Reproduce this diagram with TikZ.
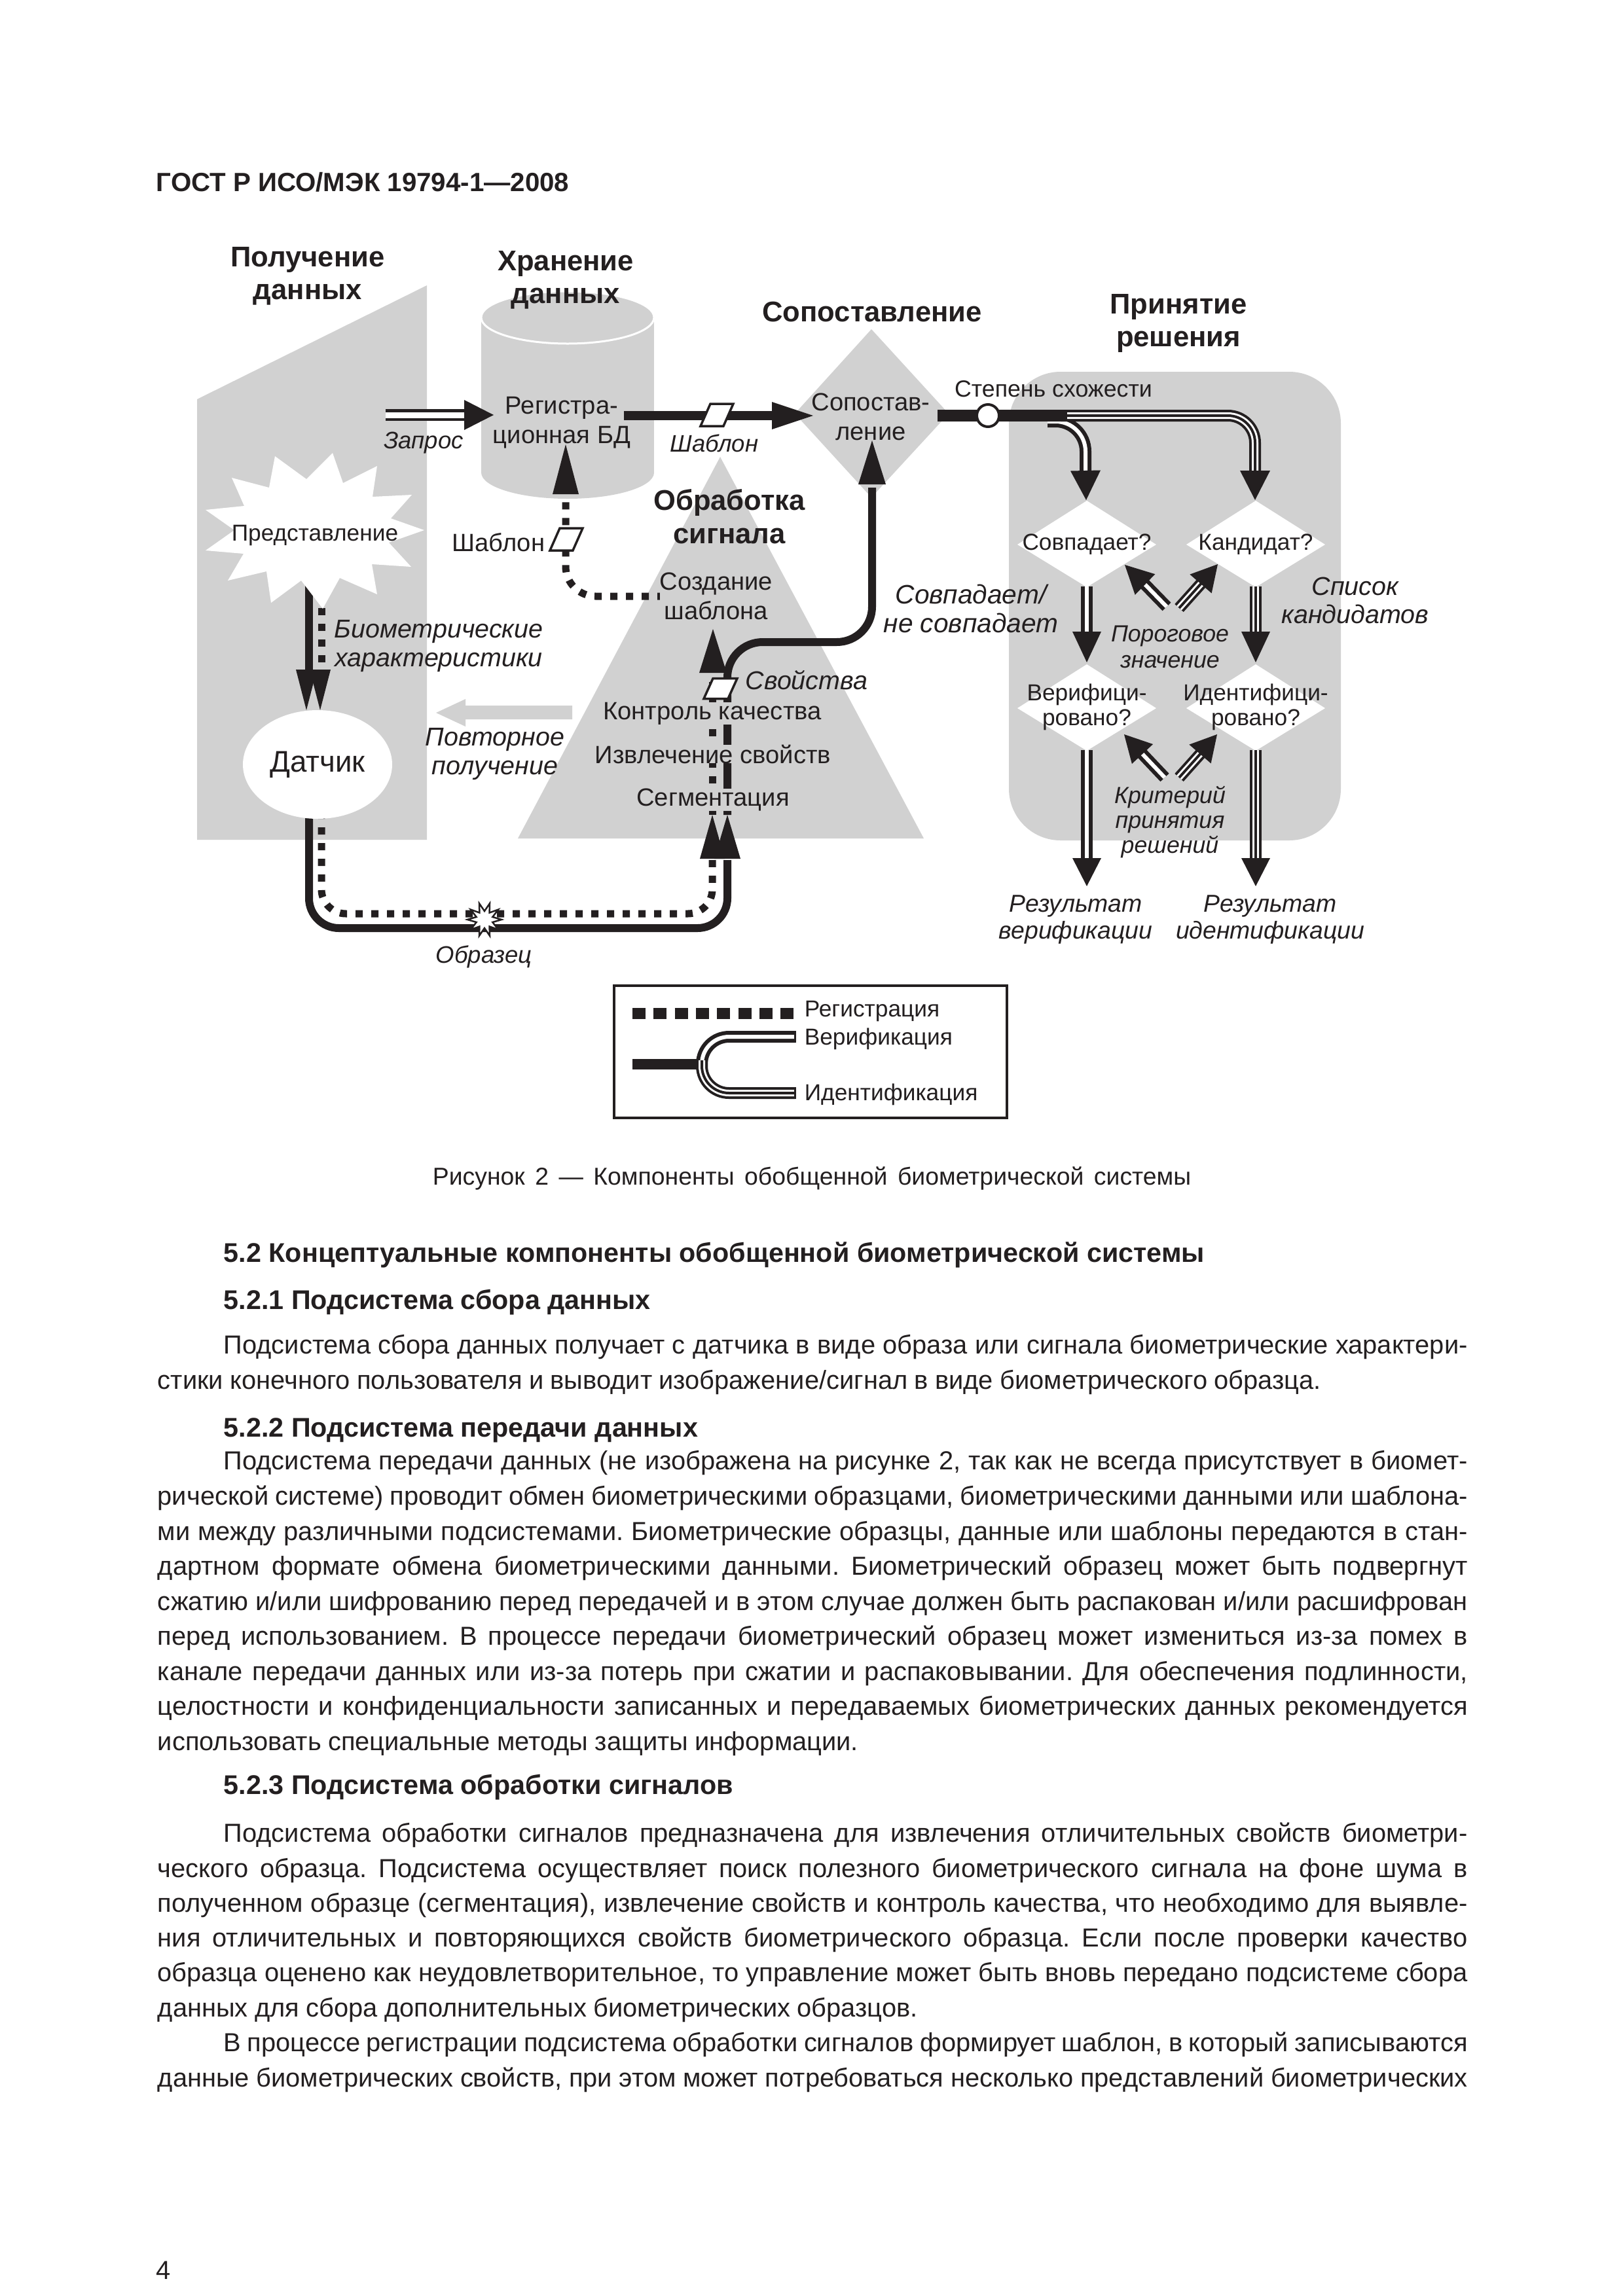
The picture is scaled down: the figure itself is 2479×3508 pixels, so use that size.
\documentclass[tikz,border=0pt]{standalone}
\usepackage{fontspec}
\setmainfont{Liberation Sans}
\usetikzlibrary{calc}
\definecolor{ink}{RGB}{35,31,32}
\definecolor{gfill}{RGB}{209,209,209}
\newdimen\px \px=0.2409pt
\newcommand\fsz[2]{\fontsize{#1}{#2}\selectfont}
\newcommand\ahd[3]{\fill[ink] (#2) -- ($(#1)!#3!90:(#2)$) -- ($(#1)!#3!-90:(#2)$) -- cycle;}
\newcommand\bl[1]{\makebox[482pt][s]{#1}}
\newcommand\ind{\hspace*{24.3pt}}
\newcommand\pgmat[1]{\draw[pgm, shift={(#1)}] (-10,-17) -- (25,-17) -- (10,17) -- (-25,17) -- cycle;}
\tikzset{
  solidln/.style={draw=ink, line width=12\px},
  regln/.style={draw=ink, line width=11\px, dash pattern=on 11\px off 13\px},
  dblln/.style={draw=ink, double=white, line width=6\px, double distance=6\px},
  trpln/.style={draw=white, line width=10\px, preaction={draw=ink, line width=18\px}, postaction={draw=ink, line width=4\px}},
  pgm/.style={fill=white, draw=ink, line width=3.5\px, line join=miter},
  lbl/.style={inner sep=0pt, align=center, text=ink},
  rg/.style={lbl, font=\fsz{9.2}{10.8}},
  it/.style={lbl, font=\itshape\fsz{9.5}{10.4}},
  ttl/.style={lbl, font=\bfseries\fsz{10.5}{12.2}},
  body/.style={anchor=base west, inner sep=0pt, text=ink, font={\fsz{9.6}{13}\frenchspacing\spaceskip=.26em plus .6em minus .12em}},
  bhead/.style={anchor=base west, inner sep=0pt, text=ink, font={\bfseries\fsz{9.95}{13}\frenchspacing}},
}
\begin{document}
\begin{tikzpicture}[x=1\px, y=-1\px]
\useasboundingbox (0,0) rectangle (2479,3508);
\fill[white] (0,0) rectangle (2479,3508);

% ---------- grey zones ----------
\fill[gfill] (301,610) -- (652,436) -- (652,1283) -- (301,1283) -- cycle;
\fill[gfill] (735,485) rectangle (999,722);
\fill[gfill] (867,722) ellipse [x radius=132, y radius=40];
\fill[gfill] (867,485) ellipse [x radius=132, y radius=40];
\draw[white, line width=3\px] (867,485) ellipse [x radius=132, y radius=40];
\fill[gfill] (1100,698) -- (1411,1281) -- (791,1281) -- cycle;
\fill[gfill] (1331,503) -- (1449,632) -- (1331,760) -- (1214,632) -- cycle;
\fill[gfill, rounded corners=19pt] (1541,568) rectangle (2048,1284);
\fill[gfill] (874,1078) -- (711,1078) -- (711,1068) -- (666,1089) -- (711,1110) -- (711,1099) -- (874,1099) -- cycle;

% decision diamonds
\coordinate (dm1) at (1660,832);
\coordinate (dm2) at (1918,832);
\coordinate (dm3) at (1660,1082);
\coordinate (dm4) at (1918,1082);
\foreach \d in {dm1,dm2,dm3,dm4}{\fill[white, shift={(\d)}] (0,-67) -- (106,0) -- (0,65) -- (-106,0) -- cycle;}

% ---------- acquisition ----------
\draw[solidln] (472,880) -- (472,1030);
\draw[regln] (491,905) -- (491,1030);
\draw[solidln, rounded corners=11pt] (472,1240) -- (472,1418) -- (1111,1418) -- (1111,1314);
\draw[regln, rounded corners=9pt] (491,1240) -- (491,1396) -- (1088,1396) -- (1088,1314);

% representation star
\fill[white] (648,810) -- (594,829) -- (628,866) -- (568,862) -- (576,908) -- (519,883) -- (493,930) -- (460,887) -- (414,921) -- (407,873) -- (348,887) -- (372,846) -- (314,841) -- (358,810) -- (314,779) -- (373,773) -- (354,730) -- (411,745) -- (420,697) -- (468,732) -- (508,692) -- (524,738) -- (576,712) -- (569,759) -- (629,756) -- (597,792) -- cycle;
% sensor
\fill[white] (485,1168) ellipse [x radius=114, y radius=83];
\ahd{468,1023}{468,1085}{16\px}
\ahd{489,1023}{489,1085}{16\px}
% sample spark
\draw[fill=white, draw=ink, line width=2.5\px, line join=miter, shift={(740,1405)}] (26,0) -- (12.4,4) -- (21,15.3) -- (7.6,10.5) -- (8,24.7) -- (0,13) -- (-8,24.7) -- (-7.6,10.5) -- (-21,15.3) -- (-12.4,4) -- (-26,0) -- (-12.4,-4) -- (-21,-15.3) -- (-7.6,-10.5) -- (-8,-24.7) -- (0,-13) -- (8,-24.7) -- (7.6,-10.5) -- (21,-15.3) -- (12.4,-4) -- cycle;

% ---------- storage ----------
\draw[ink, double=white, line width=4.5\px, double distance=9\px] (589,634) -- (712,634);
\ahd{709,634}{754,634}{23\px}
\draw[ink, line width=14\px] (953,635) -- (1182,635);
\ahd{1179,635}{1242,635}{21\px}
\coordinate (pg1) at (1095,634);
\pgmat{pg1}
\draw[regln, rounded corners=11pt] (1015,911) -- (864,911) -- (864,757);
\ahd{864,755}{864,679}{20\px}
\coordinate (pg2) at (865,824);
\pgmat{pg2}

% ---------- signal processing ----------
\draw[regln] (1088,1245) -- (1088,1030);
\draw[solidln, rounded corners=13pt] (1111,1245) -- (1111,981) -- (1332,981) -- (1332,745);
\ahd{1332,740}{1332,673}{21\px}
\ahd{1089,1028}{1089,961}{21\px}
\coordinate (pg3) at (1100,1052);
\draw[pgm, shift={(pg3)}] (-11,-15.5) -- (26,-15.5) -- (12,15.5) -- (-25,15.5) -- cycle;
\ahd{1088,1312}{1088,1245}{19\px}
\ahd{1111,1312}{1111,1245}{20\px}

% ---------- decision ----------
\draw[dblln, rounded corners=11pt] (1600,644) -- (1658,644) -- (1658,722);
\draw[trpln, rounded corners=10pt] (1620,635) -- (1917,635) -- (1917,722);
\draw[ink, line width=18\px] (1432,635) -- (1630,635);
\draw[fill=white, draw=ink, line width=4\px] (1509,635) circle [radius=17];
\ahd{1658,719}{1659,764}{23\px}
\ahd{1917,719}{1917,764}{23\px}
\draw[dblln] (1660,896) -- (1660,968);
\draw[trpln] (1918,896) -- (1918,968);
\ahd{1660,965}{1660,1012}{22\px}
\ahd{1918,965}{1918,1012}{22\px}
\draw[dblln] (1660,1146) -- (1660,1314);
\draw[trpln] (1918,1146) -- (1918,1314);
\ahd{1660,1311}{1660,1354}{22\px}
\ahd{1918,1311}{1918,1354}{22\px}
% threshold / criterion arrows
\draw[dblln] (1782,927) -- (1747,891);
\ahd{1749,893}{1718,863}{22\px}
\draw[trpln] (1801,929) -- (1836,890);
\ahd{1834,892}{1860,862}{22\px}
\draw[dblln] (1779,1188) -- (1743,1150);
\ahd{1745,1152}{1717,1122}{22\px}
\draw[trpln] (1801,1188) -- (1835,1150);
\ahd{1833,1152}{1859,1122}{22\px}

% ---------- legend ----------
\draw[ink, line width=4\px] (938,1506) rectangle (1538,1708);
\draw[ink, line width=17\px, dash pattern=on 20\px off 12.3\px] (966,1548) -- (1214,1548);
\draw[ink, line width=16\px] (966,1626) -- (1068,1626);
\draw[dblln, rounded corners=10pt] (1215,1584) -- (1072,1584) -- (1072,1632);
\draw[trpln, rounded corners=10pt] (1072,1620) -- (1072,1670) -- (1215,1670);
\draw[ink, line width=3\px] (1214,1575) -- (1214,1593);
\draw[ink, line width=3\px] (1214,1661) -- (1214,1679);

% ---------- figure labels ----------
\node[ttl] (t1) at (470,422) {Получение\\данных};
\node[ttl] (t2) at (864,428) {Хранение\\данных};
\node[ttl] (t3) at (1332,476) {Сопоставление};
\node[ttl] (t4) at (1800,494) {Принятие\\решения};
\node[ttl] (t5) at (1114,789) {Обработка\\сигнала};
\node[rg] (db) at (858,646) {Регистра-\\ционная БД};
\node[it, font=\itshape\fsz{8.8}{10}] (zap) at (647,677) {Запрос};
\node[it, font=\itshape\fsz{8.8}{10}] (shb1) at (1091,677) {Шаблон};
\node[rg, anchor=east] (shb2) at (833,829) {Шаблон};
\node[rg, font=\fsz{8.5}{10}] (pred) at (481,818) {Представление};
\node[it] (bio) at (670,987) {Биометрические\\характеристики};
\node[lbl, font=\fsz{11}{13}] (dat) at (485,1168) {Датчик};
\node[it] (povt) at (756,1152) {Повторное\\получение};
\node[it, font=\itshape\fsz{8.8}{10}] (obr) at (739,1462) {Образец};
\node[rg, fill=gfill] (soz) at (1094,911) {Создание\\шаблона};
\node[rg, fill=gfill] (kk) at (1088,1090) {Контроль качества};
\node[rg, fill=gfill] (izv) at (1089,1152) {Извлечение свойств};
\node[rg, fill=gfill] (seg) at (1089,1222) {Сегментация};
\node[it, anchor=west] (svo) at (1138,1039) {Свойства};
\node[rg] (sop) at (1330,637) {Сопостав-\\ление};
\node[rg, font=\fsz{8.6}{10}] (stx) at (1609,594) {Степень схожести};
\node[it, font=\itshape\fsz{9.8}{10.6}] (sovp) at (1483,930) {Совпадает/\\не совпадает};
\node[it] (spis) at (2070,917) {Список\\кандидатов};
\node[rg, font=\fsz{8.5}{9.5}] (q1) at (dm1) {Совпадает?};
\node[rg, font=\fsz{8.5}{9.5}] (q2) at (dm2) {Кандидат?};
\node[rg, font=\fsz{8.5}{9.2}] (q3) at (1660,1080) {Верифици-\\ровано?};
\node[rg, font=\fsz{8.5}{9.2}] (q4) at (1918,1080) {Идентифици-\\ровано?};
\node[it, font=\itshape\fsz{8.6}{9.6}] (porog) at (1787,988) {Пороговое\\значение};
\node[it, font=\itshape\fsz{8.6}{9.2}] (krit) at (1787,1256) {Критерий\\принятия\\решений};
\node[it, font=\itshape\fsz{9}{9.8}] (rv) at (1643,1405) {Результат\\верификации};
\node[it, font=\itshape\fsz{9}{9.8}] (ri) at (1940,1405) {Результат\\идентификации};
\node[rg, font=\fsz{8.5}{10}, anchor=west] (lg1) at (1228,1545) {Регистрация};
\node[rg, font=\fsz{8.5}{10}, anchor=west] (lg2) at (1228,1587) {Верификация};
\node[rg, font=\fsz{8.5}{10}, anchor=west] (lg3) at (1228,1672) {Идентификация};

% ---------- page text ----------
\node[anchor=base west, inner sep=0pt, text=ink, font=\bfseries\fsz{9.7}{12}] (hdr) at (238,292) {ГОСТ Р ИСО/МЭК 19794-1—2008};
\node[anchor=base, inner sep=0pt, text=ink, font=\fsz{9}{11}] (cap) at (1240,1810) {\makebox[279pt][s]{Рисунок 2 — Компоненты обобщенной биометрической системы}};
\node[bhead] (h52) at (341,1928) {5.2 Концептуальные компоненты обобщенной биометрической системы};
\node[bhead] (h521) at (341,2000) {5.2.1 Подсистема сбора данных};
\node[body] (a1) at (240,2068) {\bl{\ind Подсистема сбора данных получает с датчика в виде образа или сигнала биометрические характери-}};
\node[body] (a2) at (240,2122) {стики конечного пользователя и выводит изображение/сигнал в виде биометрического образца.};
\node[bhead] (h522) at (341,2195) {5.2.2 Подсистема передачи данных};
\node[body] (b1) at (240,2245) {\bl{\ind Подсистема передачи данных (не изображена на рисунке 2, так как не всегда присутствует в биомет-}};
\node[body] (b2) at (240,2299) {\bl{рической системе) проводит обмен биометрическими образцами, биометрическими данными или шаблона-}};
\node[body] (b3) at (240,2353) {\bl{ми между различными подсистемами. Биометрические образцы, данные или шаблоны передаются в стан-}};
\node[body] (b4) at (240,2406) {\bl{дартном формате обмена биометрическими данными. Биометрический образец может быть подвергнут}};
\node[body] (b5) at (240,2460) {\bl{сжатию и/или шифрованию перед передачей и в этом случае должен быть распакован и/или расшифрован}};
\node[body] (b6) at (240,2513) {\bl{перед использованием. В процессе передачи биометрический образец может измениться из-за помех в}};
\node[body] (b7) at (240,2567) {\bl{канале передачи данных или из-за потерь при сжатии и распаковывании. Для обеспечения подлинности,}};
\node[body] (b8) at (240,2620) {\bl{целостности и конфиденциальности записанных и передаваемых биометрических данных рекомендуется}};
\node[body] (b9) at (240,2674) {использовать специальные методы защиты информации.};
\node[bhead] (h523) at (341,2741) {5.2.3 Подсистема обработки сигналов};
\node[body] (c1) at (240,2814) {\bl{\ind Подсистема обработки сигналов предназначена для извлечения отличительных свойств биометри-}};
\node[body] (c2) at (240,2868) {\bl{ческого образца. Подсистема осуществляет поиск полезного биометрического сигнала на фоне шума в}};
\node[body] (c3) at (240,2921) {\bl{полученном образце (сегментация), извлечение свойств и контроль качества, что необходимо для выявле-}};
\node[body] (c4) at (240,2974) {\bl{ния отличительных и повторяющихся свойств биометрического образца. Если после проверки качество}};
\node[body] (c5) at (240,3027) {\bl{образца оценено как неудовлетворительное, то управление может быть вновь передано подсистеме сбора}};
\node[body] (c6) at (240,3081) {данных для сбора дополнительных биометрических образцов.};
\node[body] (c7) at (240,3134) {\bl{\ind В процессе регистрации подсистема обработки сигналов формирует шаблон, в который записываются}};
\node[body] (c8) at (240,3188) {\bl{данные биометрических свойств, при этом может потребоваться несколько представлений биометрических}};
\node[anchor=base west, inner sep=0pt, text=ink, font=\fsz{9.6}{12}] (pgno) at (238,3482) {4};
\end{tikzpicture}
\end{document}
